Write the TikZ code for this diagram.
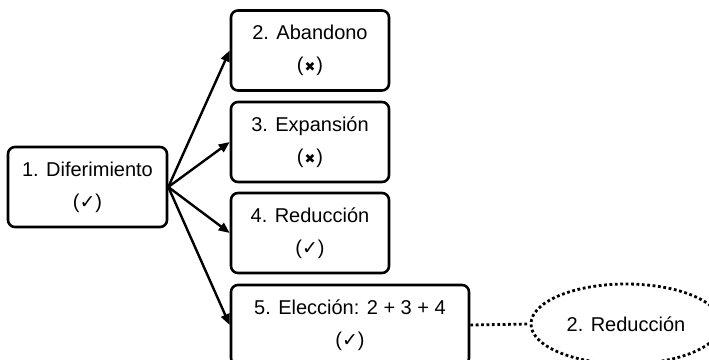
\documentclass[tikz,border=0pt]{standalone}
\usepackage{fontspec}
\setmainfont{Liberation Sans}
\newfontfamily\symfont{DejaVu Sans}
\usetikzlibrary{arrows.meta,shapes.geometric}
\newcommand{\ckm}{({\symfont\fontsize{19}{19}\selectfont ✓})}
\newcommand{\crm}{(\hspace{1pt}{\symfont\fontsize{13}{13}\selectfont ✖}\hspace{1pt})}
\begin{document}
\begin{tikzpicture}[x=1pt,y=-1pt,
  box/.style={draw,line width=2.6pt,rounded corners=7pt,minimum width=158pt,minimum height=80pt,align=center,inner sep=0pt,font=\fontsize{20}{32}\selectfont},
  arr/.style={line width=2.4pt,-{Triangle[length=11pt,width=9pt]}},
  dotline/.style={line width=2.8pt,dash pattern=on 2.8pt off 2.6pt},
  ell/.style={draw,ellipse,dotline,minimum width=190pt,minimum height=80pt,inner sep=0pt,font=\fontsize{20}{24}\selectfont}]
\useasboundingbox (0,0) rectangle (709,359);
\node[box,minimum width=159pt] (b1) at (87.5,187) {1. Diferimiento\\\ckm};
\node[box] (b2) at (310,50.5) {2. Abandono\\\crm};
\node[box] (b3) at (310,142) {3. Expansión\\\crm};
\node[box] (b4) at (310,233) {4. Reducción\\\ckm};
\node[box,minimum width=238pt] (b5) at (350,325) {5. Elección: 2 + 3 + 4\\\ckm};
\node[ell] (e) at (626,324) {2. Reducción};
\draw[arr] (b1.east) -- (b2.west);
\draw[arr] (b1.east) -- (b3.west);
\draw[arr] (b1.east) -- (b4.west);
\draw[arr] (b1.east) -- (b5.west);
\draw[dotline] (b5.east) -- (e.west);
\end{tikzpicture}
\end{document}
